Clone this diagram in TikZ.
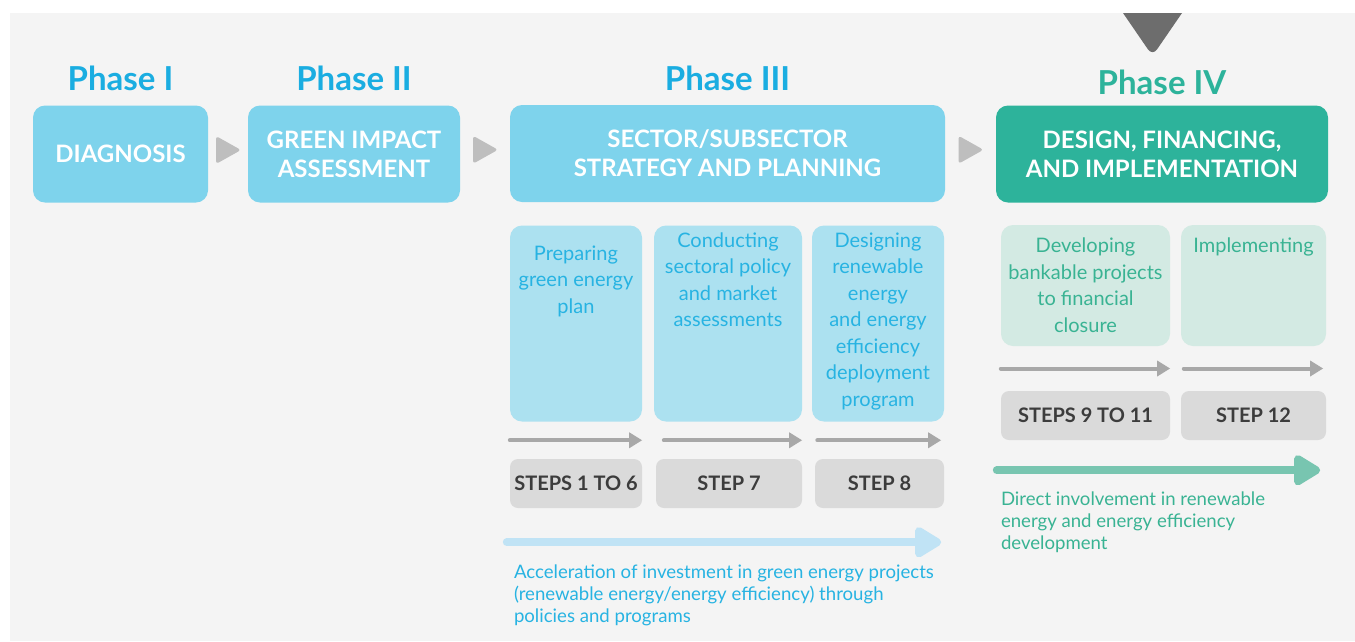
\documentclass[tikz,border=0pt]{standalone}
\usepackage{fontspec}
\setmainfont{Lato}
\usetikzlibrary{arrows.meta,positioning,calc}

\definecolor{bgpanel}{HTML}{F4F4F4}
\definecolor{phaseblue}{HTML}{1AADE1}
\definecolor{boxblue}{HTML}{7ED3EC}
\definecolor{subblue}{HTML}{ACE1F0}
\definecolor{subtext}{HTML}{27B3E2}
\definecolor{phaseteal}{HTML}{2DB39B}
\definecolor{subteal}{HTML}{D3EAE3}
\definecolor{tealtext}{HTML}{39B393}
\definecolor{tealarrow}{HTML}{78C5B0}
\definecolor{bluearrow}{HTML}{C0E3F5}
\definecolor{stepgray}{HTML}{DADADA}
\definecolor{steptext}{HTML}{3C3C3C}
\definecolor{arrowgray}{HTML}{A8A8A8}
\definecolor{trigray}{HTML}{BEBEBE}
\definecolor{topgray}{HTML}{6D6D6D}

\begin{document}
\begin{tikzpicture}[x=1pt,y=-1pt,
  phasebox/.style={rounded corners=12pt, fill=boxblue, text=white, align=center, inner sep=0pt,
    minimum height=97pt, font=\fontsize{24}{29}\selectfont\bfseries},
  phasetitle/.style={text=phaseblue, inner sep=0pt, font=\fontsize{33}{33}\selectfont\bfseries},
  subbox/.style={rounded corners=12pt, fill=subblue, inner sep=0pt},
  subtxt/.style={text=subtext, align=center, inner sep=0pt, font=\fontsize{20}{26.5}\selectfont},
  stepbox/.style={rounded corners=8pt, fill=stepgray, text=steptext, inner sep=0pt,
    minimum height=49pt, font=\fontsize{20}{20}\selectfont\bfseries},
  garrow/.style={draw=arrowgray, line width=4pt, line cap=round, -{Triangle[length=13pt,width=15pt]}},
  gtri/.style={fill=trigray, rounded corners=3pt},
  bigarrow/.style={line width=8pt, line cap=round, -{Triangle[length=30pt,width=34pt,round]}},
  note/.style={align=left, inner sep=0pt, anchor=north west, font=\fontsize{18.6}{22}\selectfont}
]
  \useasboundingbox (0,0) rectangle (1355,641);
  \fill[white] (0,0) rectangle (1355,641);
  \fill[bgpanel] (10,13) rectangle (1355,641);

  % marker on top
  \fill[topgray] (1123,13) -- (1182,13) [rounded corners=8pt]-- (1152.5,56) [sharp corners]-- cycle;

  % Phase I
  \node[phasebox, minimum width=175pt] (diag) at (120.5,154) {DIAGNOSIS};
  \node[phasetitle, above=14pt of diag] (t1) {Phase I};

  % Phase II
  \node[phasebox, minimum width=212pt] (gia) at (354,154) {GREEN IMPACT\\ASSESSMENT};
  \node[phasetitle, above=14pt of gia] (t2) {Phase II};

  % Phase III
  \node[phasebox, minimum width=435pt] (ssp) at (727.5,153.5) {SECTOR/SUBSECTOR\\STRATEGY AND PLANNING};
  \node[phasetitle, above=14pt of ssp] (t3) {Phase III};

  % Phase IV
  \node[phasebox, fill=phaseteal, minimum width=332pt] (dfi) at (1162,154) {DESIGN, FINANCING,\\AND IMPLEMENTATION};
  \node[phasetitle, text=phaseteal, above=10pt of dfi] (t4) {Phase IV};

  % triangles between the phases
  \fill[gtri] ($(diag.east)!.5!(gia.west)$) ++(-12,-18) -- ++(25,14) -- ++(-25,14) -- cycle;
  \fill[gtri] ($(gia.east)!.5!(ssp.west)$) ++(-12,-18) -- ++(25,14) -- ++(-25,14) -- cycle;
  \fill[gtri] ($(ssp.east)!.5!(dfi.west)$) ++(-12,-18) -- ++(25,14) -- ++(-25,14) -- cycle;

  % Phase III steps
  \node[subbox, minimum width=132pt, minimum height=196pt] (prep) at (576,323.5) {};
  \node[subbox, minimum width=148pt, minimum height=196pt] (cond) at (728,323.5) {};
  \node[subbox, minimum width=132pt, minimum height=196pt] (desg) at (878,323.5) {};
  \node[subtxt, below=20pt of prep.north] (preptxt) {Preparing\\green energy\\plan};
  \node[subtxt, below=7pt of cond.north] (condtxt) {Conducting\\sectoral policy\\and market\\assessments};
  \node[subtxt, below=7pt of desg.north] (desgtxt) {Designing\\renewable\\energy\\and energy\\efficiency\\deployment\\program};

  \node[stepbox, minimum width=132pt] (s16) at (576,483.5) {STEPS 1 TO 6};
  \node[stepbox, minimum width=146pt] (s7) at (729,483.5) {STEP 7};
  \node[stepbox, minimum width=129pt] (s8) at (879.5,483.5) {STEP 8};

  \draw[garrow] ($(prep.south west)!.5!(s16.north west)$) -- ($(prep.south east)!.5!(s16.north east)$);
  \draw[garrow] ($(cond.south west)!.5!(s7.north west)+(9,0)$) -- ($(cond.south east)!.5!(s7.north east)$);
  \draw[garrow] ($(desg.south west)!.5!(s8.north west)+(4,0)$) -- ($(desg.south east)!.5!(s8.north east)+(-3,0)$);

  % Phase IV steps
  \node[subbox, fill=subteal, minimum width=169pt, minimum height=121pt] (devb) at (1085.5,285.5) {};
  \node[subbox, fill=subteal, minimum width=145pt, minimum height=121pt] (impl) at (1253.5,285.5) {};
  \node[subtxt, text=tealtext, below=13pt of devb.north] (devbtxt) {Developing\\bankable projects\\to financial\\closure};
  \node[subtxt, text=tealtext, below=13pt of impl.north] (impltxt) {Implementing};

  \node[stepbox, minimum width=169pt] (s911) at (1085.5,415.5) {STEPS 9 TO 11};
  \node[stepbox, minimum width=145pt] (s12) at (1253.5,415.5) {STEP 12};

  \draw[garrow] ($(devb.south west)!.5!(s911.north west)$) -- ($(devb.south east)!.5!(s911.north east)$);
  \draw[garrow] ($(impl.south west)!.5!(s12.north west)+(3,0)$) -- ($(impl.south east)!.5!(s12.north east)+(-3,0)$);

  % long arrows and notes
  \draw[bigarrow, draw=bluearrow] ($(s16.south west)+(-3,34)$) -- ($(s8.south east)+(-3,34)$);
  \node[note, text=subtext] (accel) at ($(s16.south west)+(4,56)$)
    {Acceleration of investment in green energy projects\\(renewable energy/energy efficiency) through\\policies and programs};

  \draw[bigarrow, draw=tealarrow] ($(s911.south west)+(-4,30)$) -- ($(s12.south east)+(-6,30)$);
  \node[note, text=tealtext] (direct) at ($(s911.south west)+(0,51)$)
    {Direct involvement in renewable\\energy and energy efficiency\\development};
\end{tikzpicture}
\end{document}
